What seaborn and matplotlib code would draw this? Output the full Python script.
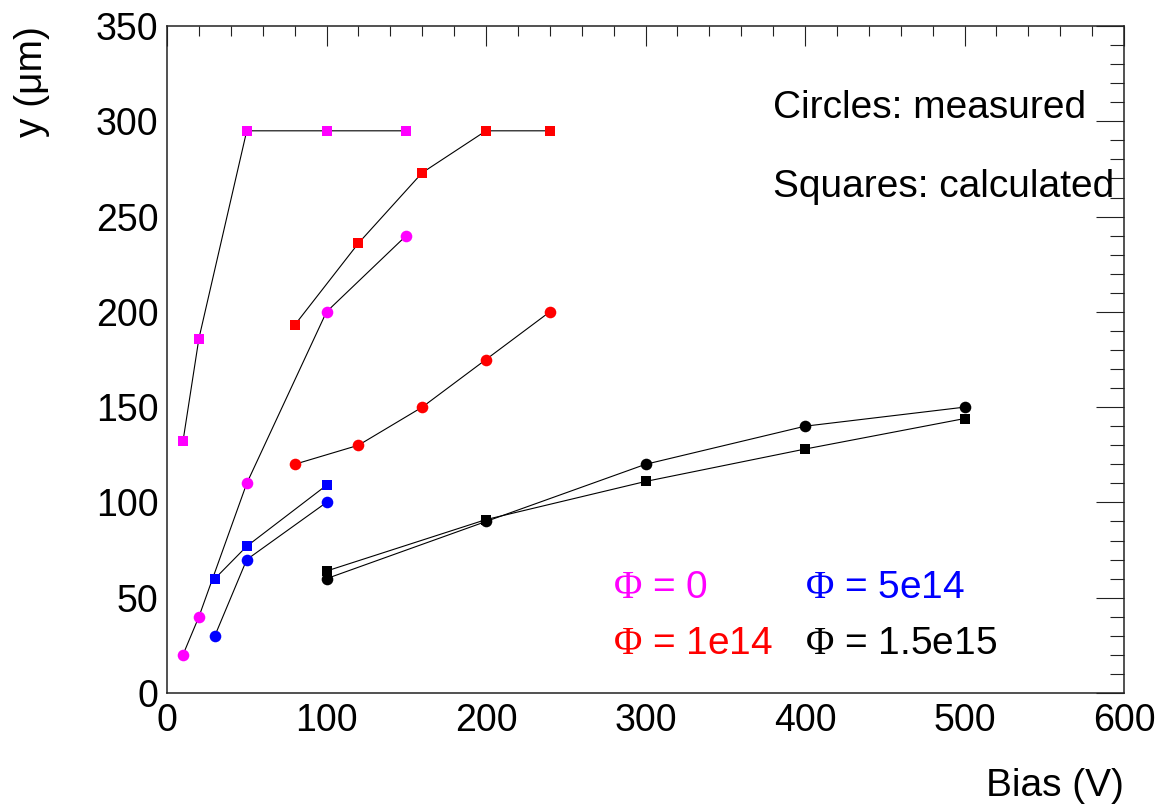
import matplotlib
matplotlib.use("Agg")
import matplotlib.pyplot as plt
from matplotlib.ticker import MultipleLocator
import seaborn as sns
import pandas as pd

# Depletion depth vs. bias for several fluences
phi0_bias = [10, 20, 50, 100, 150]
phi0_meas = [20, 40, 110, 200, 240]
phi0_calc = [132, 186, 295, 295, 295]

phi1e14_bias = [80, 120, 160, 200, 240]
phi1e14_meas = [120, 130, 150, 175, 200]
phi1e14_calc = [193, 236, 273, 295, 295]

phi5e14_bias = [30, 50, 100]
phi5e14_meas = [30, 70, 100]
phi5e14_calc = [60, 77, 109]

phi15e15_bias = [100, 200, 300, 400, 500]
phi15e15_meas = [60, 90, 120, 140, 150]
phi15e15_calc = [64, 91, 111, 128, 144]

series_labels = ["0", "1e14", "5e14", "1.5e15"]
series_colors = ["#ff00ff", "#ff0000", "#0000ff", "#000000"]

x_ticks = [0, 100, 200, 300, 400, 500, 600]
y_ticks = [0, 50, 100, 150, 200, 250, 300, 350]

sns.set_style("white")
plt.rcParams["font.family"] = ["Liberation Sans", "DejaVu Sans"]
plt.rcParams["mathtext.fontset"] = "custom"
plt.rcParams["mathtext.rm"] = "Liberation Serif"
plt.rcParams["mathtext.it"] = "Liberation Serif:italic"
for key in ("text.color", "axes.labelcolor", "xtick.color", "ytick.color"):
    plt.rcParams[key] = "black"

fig = plt.figure(figsize=(11.61, 8.06), dpi=100)
ax = fig.add_axes([167 / 1161, 1 - 693 / 806, (1124 - 167) / 1161, (693 - 26) / 806])

groups = [
    (phi0_bias, phi0_meas, phi0_calc),
    (phi1e14_bias, phi1e14_meas, phi1e14_calc),
    (phi5e14_bias, phi5e14_meas, phi5e14_calc),
    (phi15e15_bias, phi15e15_meas, phi15e15_calc),
]

for (bias, meas, calc), color in zip(groups, series_colors):
    for vals, marker, size in ((meas, "o", 70), (calc, "s", 55)):
        df = pd.DataFrame({"bias": bias, "depth": vals})
        sns.lineplot(data=df, x="bias", y="depth", ax=ax, color="black",
                     linewidth=0.8, estimator=None, sort=False, zorder=2)
        sns.scatterplot(data=df, x="bias", y="depth", ax=ax, color=color,
                        marker=marker, s=size, linewidth=0, zorder=3)

ax.set_xlim(0, 600)
ax.set_ylim(0, 350)
ax.set_xticks(x_ticks)
ax.set_yticks(y_ticks)
ax.set_xticklabels([str(v) for v in x_ticks])
ax.set_yticklabels([str(v) for v in y_ticks])
ax.xaxis.set_minor_locator(MultipleLocator(20))
ax.yaxis.set_minor_locator(MultipleLocator(10))

ax.tick_params(axis="both", which="both", direction="in", top=True, right=True,
               width=0.8, color="#222222", labelsize=27, labelcolor="black")
ax.tick_params(axis="x", which="major", length=14.5, pad=7)
ax.tick_params(axis="x", which="minor", length=7.2)
ax.tick_params(axis="y", which="major", length=20, pad=6)
ax.tick_params(axis="y", which="minor", length=10)
for sp in ax.spines.values():
    sp.set_linewidth(1.1)
    sp.set_color("#222222")
    sp.set_visible(True)

ax.set_xlabel("Bias (V)", fontsize=28, loc="right", va="baseline")
ax.xaxis.set_label_coords(1.0, (693 - 796) / 667)
ax.set_ylabel("y (μm)", fontsize=28, loc="top")
ax.yaxis.set_label_coords((50 - 167) / 957, 1.0)

ax.text(380, 301.7, "Circles: measured", fontsize=28, va="baseline", ha="left")
ax.text(380, 260.4, "Squares: calculated", fontsize=28, va="baseline", ha="left")

legend_pos = [(279.6, 50.0), (279.6, 20.5), (400, 50.0), (400, 20.5)]
for (lx, ly), lab, color in zip(legend_pos, series_labels, series_colors):
    ax.text(lx, ly, r"$\mathrm{\Phi}$ = " + lab, fontsize=28, color=color,
            va="baseline", ha="left")

fig.savefig("out.png", dpi=100, facecolor="white")
